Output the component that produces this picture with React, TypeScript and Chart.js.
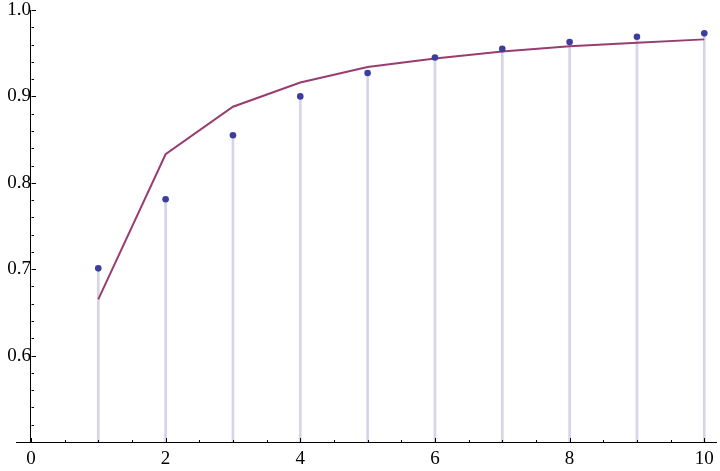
import React, { useEffect, useRef } from 'react';
import { Chart, registerables } from 'chart.js';

Chart.register(...registerables);

const xValues = [1, 2, 3, 4, 5, 6, 7, 8, 9, 10];
const pointValues = [0.701, 0.781, 0.855, 0.9, 0.927, 0.945, 0.955, 0.963, 0.969, 0.973];
const lineValues = [0.665, 0.833, 0.888, 0.916, 0.934, 0.944, 0.952, 0.958, 0.962, 0.966];
const xTickLabels = [0, 2, 4, 6, 8, 10];
const yTickLabels = [0.6, 0.7, 0.8, 0.9, 1.0];
const xMinorTicks = [0.5, 1, 1.5, 2.5, 3, 3.5, 4.5, 5, 5.5, 6.5, 7, 7.5, 8.5, 9, 9.5];
const yMinorTicks = [0.52, 0.54, 0.56, 0.58, 0.62, 0.64, 0.66, 0.68, 0.72, 0.74, 0.76, 0.78, 0.82, 0.84, 0.86, 0.88, 0.92, 0.94, 0.96, 0.98];

const X_MIN = -0.222;
const X_MAX = 10.174;
const Y_MIN = 0.5;
const Y_MAX = 1.0;

const FONT_FAMILY = "'Liberation Serif', 'Times New Roman', serif";
const FONT_SIZE = 19;

const tickMarks = {
  id: 'tickMarks',
  afterDatasetsDraw(chart: any) {
    const ctx = chart.ctx;
    const xs = chart.scales.x;
    const ys = chart.scales.y;
    const x0 = Math.round(xs.getPixelForValue(0)) + 0.5;
    const y0 = Math.round(ys.getPixelForValue(Y_MIN)) + 0.5;
    ctx.save();
    ctx.strokeStyle = '#000';
    ctx.lineWidth = 1;
    ctx.beginPath();
    xTickLabels.forEach((v) => {
      const px = Math.round(xs.getPixelForValue(v)) + 0.5;
      ctx.moveTo(px, y0);
      ctx.lineTo(px, y0 - 4.5);
    });
    xMinorTicks.forEach((v) => {
      const px = Math.round(xs.getPixelForValue(v)) + 0.5;
      ctx.moveTo(px, y0);
      ctx.lineTo(px, y0 - 2.5);
    });
    yTickLabels.forEach((v) => {
      const py = Math.round(ys.getPixelForValue(v)) + 0.5;
      ctx.moveTo(x0, py);
      ctx.lineTo(x0 + 4.5, py);
    });
    yMinorTicks.forEach((v) => {
      const py = Math.round(ys.getPixelForValue(v)) + 0.5;
      ctx.moveTo(x0, py);
      ctx.lineTo(x0 + 2.5, py);
    });
    ctx.stroke();
    ctx.restore();
  },
};

export default function App() {
  const canvasRef = useRef<HTMLCanvasElement | null>(null);

  useEffect(() => {
    const canvas = canvasRef.current;
    if (!canvas) return;
    Chart.defaults.font.family = FONT_FAMILY;
    Chart.defaults.font.size = FONT_SIZE;
    Chart.defaults.color = '#000';
    const font = { family: FONT_FAMILY, size: FONT_SIZE };
    const chart = new Chart(canvas, {
      type: 'scatter',
      data: {
        datasets: [
          {
            type: 'bar',
            data: xValues.map((x, i) => ({ x, y: [Y_MIN, pointValues[i]] })) as any,
            backgroundColor: '#d5d5ea',
            borderWidth: 0,
            barThickness: 2,
            order: 3,
          } as any,
          {
            type: 'line',
            data: xValues.map((x, i) => ({ x, y: lineValues[i] })),
            borderColor: '#993d71',
            borderWidth: 2,
            pointRadius: 0,
            tension: 0,
            fill: false,
            order: 2,
          },
          {
            type: 'scatter',
            data: xValues.map((x, i) => ({ x, y: pointValues[i] })),
            backgroundColor: '#3d3d9e',
            borderColor: '#3d3d9e',
            borderWidth: 0,
            pointRadius: 3.3,
            order: 1,
          },
        ],
      },
      options: {
        responsive: false,
        animation: false,
        layout: { padding: { left: 16, right: 0, top: 10, bottom: 29 } },
        plugins: { legend: { display: false }, tooltip: { enabled: false } },
        scales: {
          x: {
            type: 'linear',
            min: X_MIN,
            max: X_MAX,
            offset: false,
            position: { y: Y_MIN } as any,
            grid: { display: false, drawTicks: false, offset: false },
            border: { display: true, color: '#000', width: 1 },
            afterBuildTicks: (scale: any) => {
              scale.ticks = xTickLabels.map((v) => ({ value: v }));
            },
            afterFit: (scale: any) => {
              scale.paddingLeft = 0;
              scale.paddingRight = 0;
            },
            ticks: {
              color: '#000',
              font,
              padding: 6,
              maxRotation: 0,
              autoSkip: false,
              callback: (v: any) => String(v),
            },
          },
          y: {
            type: 'linear',
            min: Y_MIN,
            max: Y_MAX,
            position: { x: 0 } as any,
            grid: { display: false, drawTicks: false },
            border: { display: true, color: '#000', width: 1 },
            afterBuildTicks: (scale: any) => {
              scale.ticks = yTickLabels.map((v) => ({ value: v }));
            },
            afterFit: (scale: any) => {
              scale.paddingTop = 0;
              scale.paddingBottom = 0;
            },
            ticks: {
              color: '#000',
              font,
              padding: 5,
              autoSkip: false,
              callback: (v: any) => Number(v).toFixed(1),
            },
          },
        },
      },
      plugins: [tickMarks],
    });
    return () => chart.destroy();
  }, []);

  return (
    <div style={{ position: 'fixed', left: 0, top: 0, width: 720, height: 471, background: '#fff' }}>
      <canvas ref={canvasRef} width={720} height={471} style={{ display: 'block' }} />
    </div>
  );
}
